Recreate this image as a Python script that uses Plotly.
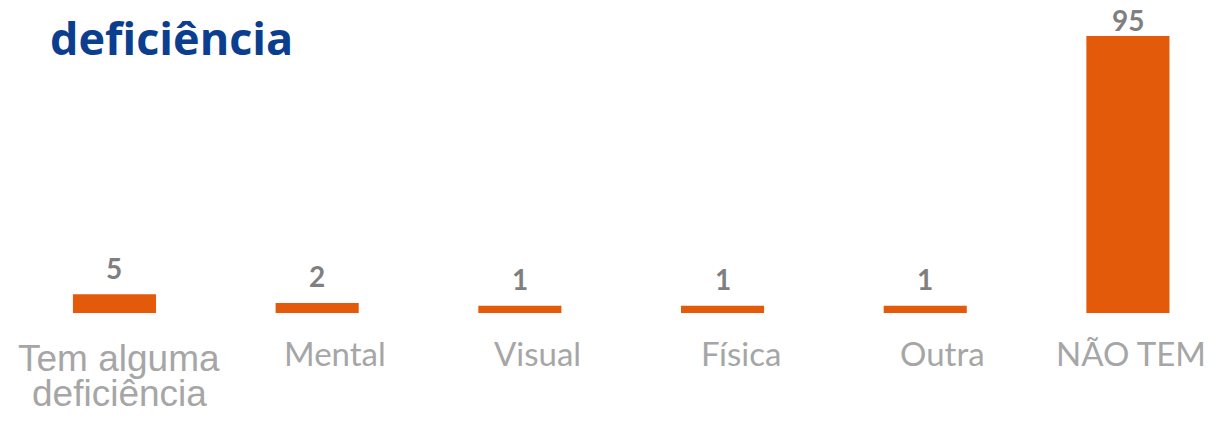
import plotly.graph_objects as go

# categories and values (percent)
categorias = ['Tem alguma deficiência', 'Mental', 'Visual', 'Física', 'Outra', 'NÃO TEM']
rotulos = ['Tem alguma<br>deficiência', 'Mental', 'Visual', 'Física', 'Outra', 'NÃO TEM']
valores = [5, 2, 1, 1, 1, 95]

# style
laranja = '#E35A0A'
cinza_valor = '#7F7F7F'
cinza_rotulo = '#A6A6A6'
azul_titulo = '#0B3E8E'
base = -1.5  # bars start a bit below zero, like the original chart
deslocamento_x = [5, 18, 18, 18, 17, 3]
folga_valor = [8, 9, 9, 9, 9, -2]

# the page body has an 8px margin, so the figure is 8px smaller than the window
W, H = 1211, 413

fig = go.Figure()
fig.add_trace(go.Bar(
    x=categorias,
    y=[v - base for v in valores],
    base=base,
    width=0.41,
    marker=dict(color=laranja, line=dict(width=0)),
    hoverinfo='skip',
))

# value labels above the bars
for cat, v, dy in zip(categorias, valores, folga_valor):
    fig.add_annotation(
        x=cat, xref='x', y=v, yref='y',
        text=f'<b>{v}</b>', showarrow=False, borderpad=0,
        xanchor='center', yanchor='bottom', yshift=dy,
        font=dict(family='Lato', size=28, color=cinza_valor),
    )

# category labels under the bars
for cat, rot, dx in zip(categorias, rotulos, deslocamento_x):
    linhas = rot.split('<br>')
    grande = len(linhas) > 1
    for i, linha in enumerate(linhas):
        fig.add_annotation(
            x=cat, xref='x', y=0, yref='paper',
            text=linha, showarrow=False,
            xanchor='center', yanchor='middle',
            xshift=dx, yshift=(-45 - 35 * i) if grande else -40,
            font=dict(family='Liberation Sans' if grande else 'Lato',
                      size=37 if grande else 33, color=cinza_rotulo),
        )

fig.update_layout(
    width=W, height=H,
    margin=dict(l=2, r=10, t=12, b=108),
    paper_bgcolor='white', plot_bgcolor='white',
    showlegend=False,
    title=dict(text='<b>deficiência</b>', xref='container', yref='container',
               x=42 / W, xanchor='left', y=1 - 31 / H, yanchor='middle',
               font=dict(family='Open Sans', size=45, color=azul_titulo)),
)
fig.update_xaxes(range=[-0.5155, 5.40], showticklabels=False, showgrid=False,
                 zeroline=False, showline=False, ticks='')
fig.update_yaxes(range=[base, 100.6], visible=False, showgrid=False, zeroline=False)

fig.write_html('out.html')
